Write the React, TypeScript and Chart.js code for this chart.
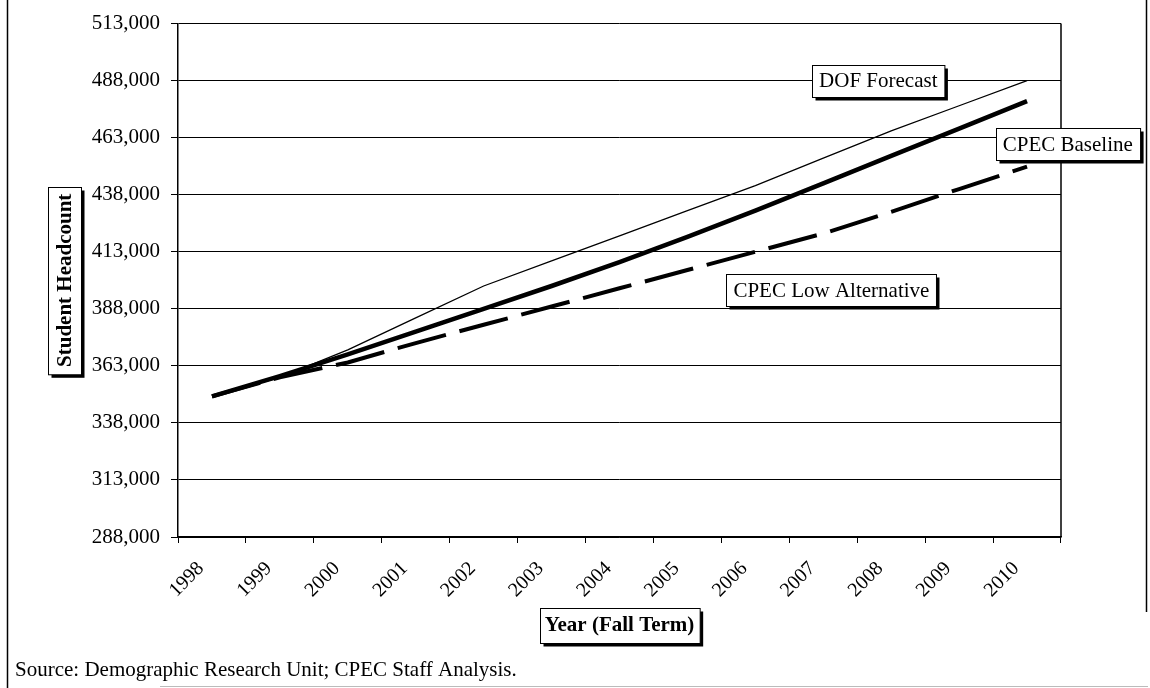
import React, { useEffect, useRef } from 'react';
import { Chart, registerables } from 'chart.js';

Chart.register(...registerables);

const years = ['1998', '1999', '2000', '2001', '2002', '2003', '2004', '2005', '2006', '2007', '2008', '2009', '2010'];
const dofForecast = [349600, 358000, 370000, 384000, 398000, 409000, 420000, 431000, 442000, 454000, 466000, 477000, 488000];
const cpecBaseline = [349600, 358500, 368000, 378000, 388000, 398000, 408500, 419500, 431000, 443000, 455000, 467000, 479000];
const cpecLowAlternative = [349600, 358000, 364500, 373000, 381000, 389000, 397000, 405000, 413000, 421000, 430500, 440500, 450300];
const yTickValues = [288000, 313000, 338000, 363000, 388000, 413000, 438000, 463000, 488000, 513000];
const seriesNames = ['DOF Forecast', 'CPEC Baseline', 'CPEC Low Alternative'];
const yTitle = 'Student Headcount';
const xTitle = 'Year (Fall Term)';
const sourceNote = 'Source: Demographic Research Unit; CPEC Staff Analysis.';

// where each series label box sits, in data coordinates (category index, value)
const seriesLabelAnchors = [
  { x: 9.81, y: 488000 },
  { x: 12.6, y: 460200 },
  { x: 9.12, y: 396200 },
];

const FONT = '"Liberation Serif", "Times New Roman", serif';

function drawBox(ctx: CanvasRenderingContext2D, cx: number, cy: number, text: string, font: string, padX: number, boxH: number, vertical: boolean) {
  ctx.save();
  ctx.font = font;
  const tw = ctx.measureText(text).width;
  const along = tw + 2 * padX;
  const sw = vertical ? boxH : along;
  const sh = vertical ? along : boxH;
  const x = Math.round(cx - sw / 2) + 0.5;
  const y = Math.round(cy - sh / 2) + 0.5;
  ctx.fillStyle = '#000';
  ctx.fillRect(x + 3, y + 3, sw, sh);
  ctx.fillStyle = '#fff';
  ctx.fillRect(x, y, sw, sh);
  ctx.strokeStyle = '#000';
  ctx.lineWidth = 1;
  ctx.strokeRect(x, y, sw, sh);
  ctx.fillStyle = '#000';
  ctx.textAlign = 'center';
  ctx.textBaseline = 'middle';
  ctx.translate(cx, cy);
  if (vertical) ctx.rotate(-Math.PI / 2);
  ctx.fillText(text, 0, 1);
  ctx.restore();
}

const decorPlugin = {
  id: 'decor',
  afterDatasetsDraw(chart: any) {
    const ctx: CanvasRenderingContext2D = chart.ctx;
    const { right, top, bottom } = chart.chartArea;
    const xs = chart.scales.x;
    const ys = chart.scales.y;
    ctx.save();
    ctx.strokeStyle = '#000';
    ctx.lineWidth = 1.5;
    ctx.beginPath();
    ctx.moveTo(right, top);
    ctx.lineTo(right, bottom);
    ctx.stroke();
    ctx.restore();

    seriesNames.forEach((name, i) => {
      const a = seriesLabelAnchors[i];
      drawBox(ctx, xs.getPixelForValue(a.x), ys.getPixelForValue(a.y), name, `21px ${FONT}`, 7, 32, false);
    });
  },
  afterDraw(chart: any) {
    const ctx: CanvasRenderingContext2D = chart.ctx;
    const { left, right, top, bottom } = chart.chartArea;
    drawBox(ctx, 64.5, (top + bottom) / 2, yTitle, `bold 21px ${FONT}`, 7, 33, true);
    drawBox(ctx, (left + right) / 2, bottom + 88, xTitle, `bold 21px ${FONT}`, 5, 35, false);

    ctx.save();
    ctx.fillStyle = '#000';
    ctx.font = `21px ${FONT}`;
    ctx.textAlign = 'left';
    ctx.textBaseline = 'alphabetic';
    ctx.fillText(sourceNote, 15, 676);

    ctx.strokeStyle = '#000';
    ctx.lineWidth = 1.5;
    ctx.beginPath();
    ctx.moveTo(7.5, 0);
    ctx.lineTo(7.5, 688);
    ctx.moveTo(1146.5, 0);
    ctx.lineTo(1146.5, 612);
    ctx.stroke();
    ctx.strokeStyle = '#bbb';
    ctx.lineWidth = 1;
    ctx.beginPath();
    ctx.moveTo(160, 686.5);
    ctx.lineTo(1148, 686.5);
    ctx.stroke();
    ctx.restore();
  },
};

export default function App() {
  const ref = useRef<HTMLCanvasElement | null>(null);

  useEffect(() => {
    if (!ref.current) return;
    const chart = new Chart(ref.current, {
      type: 'line',
      data: {
        labels: years,
        datasets: [
          {
            label: seriesNames[0],
            data: dofForecast,
            borderColor: '#000',
            borderWidth: 1.3,
            pointRadius: 0,
            tension: 0,
            fill: false,
          },
          {
            label: seriesNames[1],
            data: cpecBaseline,
            borderColor: '#000',
            borderWidth: 4.5,
            pointRadius: 0,
            tension: 0,
            fill: false,
          },
          {
            label: seriesNames[2],
            data: cpecLowAlternative,
            borderColor: '#000',
            borderWidth: 4,
            borderDash: [50, 14],
            pointRadius: 0,
            tension: 0,
            fill: false,
          },
        ],
      },
      options: {
        responsive: false,
        animation: false,
        layout: { padding: { top: 17, right: 89, left: 0, bottom: 0 } },
        plugins: {
          legend: { display: false },
          tooltip: { enabled: false },
          title: { display: false },
        },
        scales: {
          x: {
            type: 'category',
            offset: true,
            grid: {
              offset: true,
              drawOnChartArea: false,
              drawTicks: true,
              tickLength: 6,
              color: '#000',
              lineWidth: 1,
            },
            border: { display: true, color: '#000', width: 1.5 },
            ticks: {
              autoSkip: false,
              minRotation: 45,
              maxRotation: 45,
              color: '#000',
              padding: 14,
              labelOffset: -11,
              font: { family: FONT, size: 20 },
            },
            afterFit: (s: any) => {
              s.height = 151;
            },
          },
          y: {
            type: 'linear',
            min: 288000,
            max: 513000,
            afterBuildTicks: (s: any) => {
              s.ticks = yTickValues.map((v) => ({ value: v }));
            },
            grid: { color: '#000', lineWidth: 1, tickLength: 7 },
            border: { display: true, color: '#000', width: 1.5 },
            ticks: {
              color: '#000',
              padding: 11,
              font: { family: FONT, size: 21 },
              callback: (v: any) => Number(v).toLocaleString('en-US'),
            },
            afterFit: (s: any) => {
              s.width = 178;
            },
          },
        },
      },
      plugins: [decorPlugin],
    });
    return () => chart.destroy();
  }, []);

  return (
    <div style={{ position: 'fixed', left: 0, top: 0, width: 1150, height: 688, background: '#fff' }}>
      <canvas ref={ref} width={1150} height={688} style={{ display: 'block', width: 1150, height: 688 }} />
    </div>
  );
}
